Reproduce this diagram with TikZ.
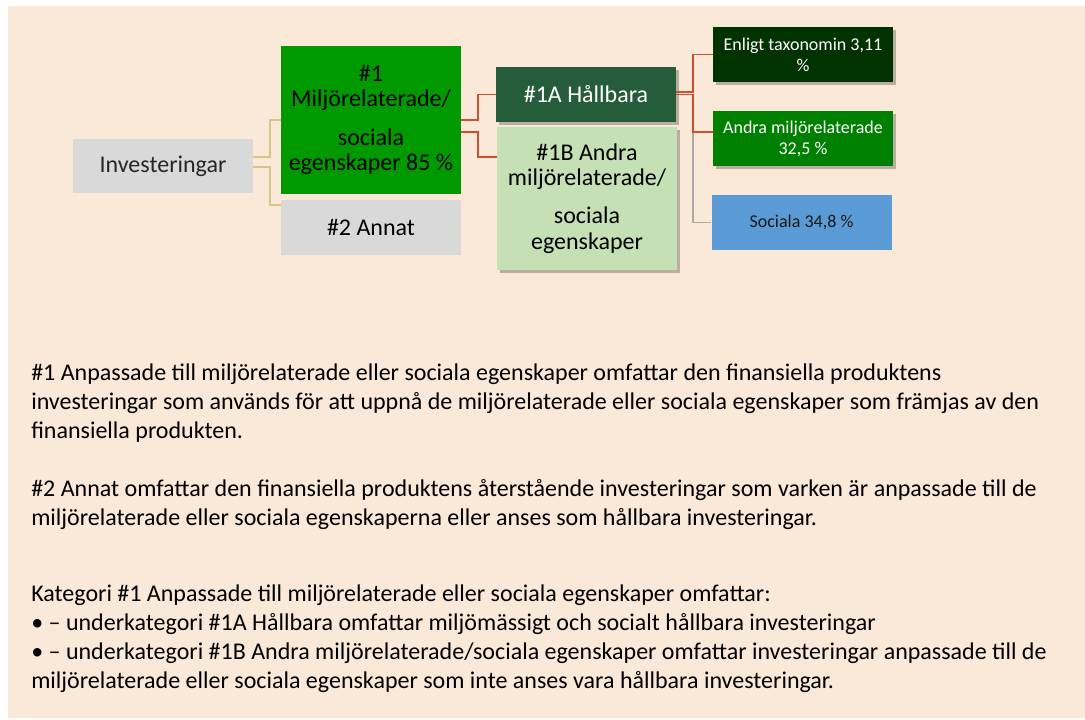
\documentclass[tikz,border=0pt]{standalone}
\usepackage{fontspec}
\setmainfont{Carlito}
\usepackage{xcolor}
\usepackage{tikz}
\usetikzlibrary{calc,shadows,positioning}

\definecolor{bgbeige}{HTML}{FAE8D8}
\definecolor{boxgray}{HTML}{D9D9D9}
\definecolor{onegreen}{HTML}{009900}
\definecolor{hallgreen}{HTML}{255D3B}
\definecolor{palegreen}{HTML}{C5E0B4}
\definecolor{taxgreen}{HTML}{003300}
\definecolor{midgreen}{HTML}{008000}
\definecolor{socblue}{HTML}{5B9BD5}
\definecolor{tanline}{HTML}{D5C784}
\definecolor{redline}{HTML}{CC5030}
\definecolor{grayline}{HTML}{AAAAAA}

\tikzset{
  catbox/.style={inner sep=0pt, align=center,
    minimum width=135pt, minimum height=#1},
  catbox/.default=41.25pt,
  bigtext/.style={font=\fontsize{18}{19}\selectfont},
  smalltext/.style={font=\fontsize{13.5}{15.75}\selectfont},
  boxshadow/.style={drop shadow={shadow xshift=2pt,shadow yshift=-2.2pt,
    opacity=.25,fill=black}},
  tanconn/.style={draw=tanline,line width=1.3pt},
  redconn/.style={draw=redline,line width=1.3pt},
  grayconn/.style={draw=grayline,line width=1.1pt},
  bodytext/.style={anchor=base west,inner sep=0pt,align=left,
    font=\fontsize{18}{21.75}\selectfont}
}

\begin{document}
\begin{tikzpicture}[x=0.75pt,y=-0.75pt]
  \useasboundingbox (0,0) rectangle (1085,720);
  \fill[white] (0,0) rectangle (1085,720);
  \fill[bgbeige] (8,6) rectangle (1085,718);

  % boxes
  \node[catbox=40.5pt,bigtext,fill=boxgray,text=black!85] (inv) at (163,166) {Investeringar};
  \node[catbox=111pt,bigtext,fill=onegreen] (one) at (371,120)
    {\#1\\Miljörelaterade/\\[9.75pt]sociala\\egenskaper 85~\%};
  \node[catbox,bigtext,fill=boxgray] (two) at (371,227.5) {\#2 Annat};
  \node[catbox,bigtext,fill=hallgreen,text=white,boxshadow] (oneA) at (586,94.5) {\#1A Hållbara};
  \node[catbox=107.25pt,bigtext,fill=palegreen,boxshadow] (oneB) at (587,198.5)
    {\#1B Andra\\miljörelaterade/\\[9.75pt]sociala\\egenskaper};
  \node[catbox,smalltext,fill=taxgreen,text=white,boxshadow] (tax) at (803,54.5)
    {Enligt taxonomin 3,11\\\%};
  \node[catbox,smalltext,fill=midgreen,text=white,boxshadow] (andra) at (803,138.5)
    {Andra miljörelaterade\\32,5~\%};
  \node[catbox,smalltext,fill=socblue,text=black!90] (soc) at (801.5,222.5) {Sociala 34,8~\%};

  % connectors
  \coordinate (busA) at (270,0);
  \coordinate (busB) at (478,0);
  \coordinate (busC) at (693,0);
  \coordinate (twoIn) at ($(two.north west)+(0,5)$);
  \coordinate (oneBIn) at ($(oneB.north west)+(0,30)$);
  \coordinate (andraIn) at ($(andra.north west)+(0,21)$);
  \draw[tanconn] ($(inv.east)+(0,-9)$) -| (busA |- one.west) -- (one.west);
  \draw[tanconn] ($(inv.east)+(0,1)$) -| (busA |- twoIn) -- (twoIn);
  \draw[redconn] (one.east) -| (busB |- oneA.west) -- (oneA.west);
  \draw[redconn] ($(one.east)+(0,12)$) -| (busB |- oneBIn) -- (oneBIn);
  \draw[grayconn] (busC |- andraIn) |- (soc.west);
  \draw[redconn] ($(oneA.east)+(0,-2.5)$) -| (busC |- tax.west) -- (tax.west);
  \draw[redconn] (oneA.east) -| (busC |- andraIn) -- (andraIn);

  % notes (placed by the baseline of their last line)
  \node[bodytext] (noteOne) at (31,438)
    {\#1 Anpassade till miljörelaterade eller sociala egenskaper omfattar den finansiella produktens\\
     investeringar som används för att uppnå de miljörelaterade eller sociala egenskaper som främjas av den\\
     finansiella produkten.};
  \node[bodytext] (noteTwo) at (31,525)
    {\#2 Annat omfattar den finansiella produktens återstående investeringar som varken är anpassade till de\\
     miljörelaterade eller sociala egenskaperna eller anses som hållbara investeringar.};
  \node[bodytext] (noteCat) at (31,688)
    {Kategori \#1 Anpassade till miljörelaterade eller sociala egenskaper omfattar:\\
     • – underkategori \#1A Hållbara omfattar miljömässigt och socialt hållbara investeringar\\
     • – underkategori \#1B Andra miljörelaterade/sociala egenskaper omfattar investeringar anpassade till de\\
     miljörelaterade eller sociala egenskaper som inte anses vara hållbara investeringar.};
\end{tikzpicture}
\end{document}
